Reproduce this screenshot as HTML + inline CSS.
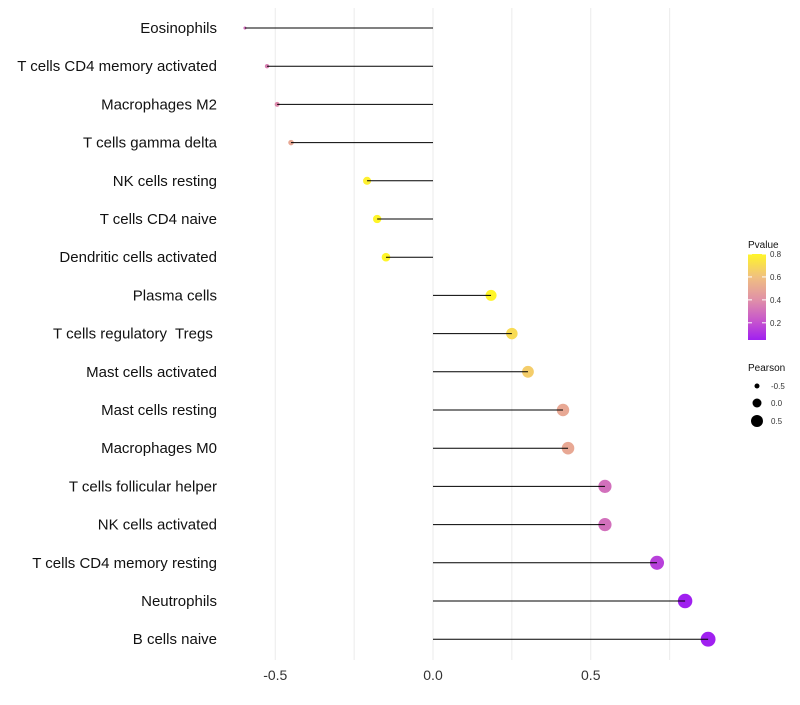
<!DOCTYPE html>
<html><head><meta charset="utf-8"><style>
body{margin:0;background:#fff;font-family:"Liberation Sans",sans-serif;}
svg text{font-family:"Liberation Sans",sans-serif;white-space:pre;}
</style></head><body>
<svg id="chart" width="800" height="700"></svg>
<script>
const categories=["Eosinophils","T cells CD4 memory activated","Macrophages M2","T cells gamma delta","NK cells resting","T cells CD4 naive","Dendritic cells activated","Plasma cells","T cells regulatory  Tregs ","Mast cells activated","Mast cells resting","Macrophages M0","T cells follicular helper","NK cells activated","T cells CD4 memory resting","Neutrophils","B cells naive"];
const pearson=[-0.596,-0.526,-0.494,-0.45,-0.209,-0.177,-0.149,0.184,0.25,0.301,0.412,0.428,0.545,0.545,0.71,0.799,0.872];
const pvalue=[0.3,0.35,0.38,0.5,0.78,0.8,0.8,0.8,0.7,0.65,0.5,0.5,0.3,0.3,0.15,0.05,0.02];
const xTicks=[-0.5,0,0.5];
const xTickLabels=["-0.5","0.0","0.5"];
const gridVals=[-0.5,-0.25,0,0.25,0.5,0.75];
const NS="http://www.w3.org/2000/svg";
const svg=document.getElementById('chart');
function mk(t,a,p){const e=document.createElementNS(NS,t);for(const k in a)e.setAttribute(k,a[k]);(p||svg).appendChild(e);return e;}
const x=v=>433+v*315.5;
const y=i=>28+i*38.2;
const stops=[[0.05,[160,32,240]],[0.2,[196,80,208]],[0.4,[224,144,168]],[0.6,[240,192,128]],[0.8,[255,245,40]]];
function col(p){if(p<=stops[0][0])return `rgb(${stops[0][1]})`;for(let i=1;i<stops.length;i++){if(p<=stops[i][0]){const a=stops[i-1],b=stops[i],t=(p-a[0])/(b[0]-a[0]);return 'rgb('+a[1].map((c,j)=>Math.round(c+(b[1][j]-c)*t)).join(',')+')';}}return `rgb(${stops[stops.length-1][1]})`;}
const rad=v=>Math.sqrt(2.25+36*Math.max(0,v+0.6));
gridVals.forEach(g=>{const l=mk('line',{x1:x(g),x2:x(g),y1:8,y2:660,stroke:'#ebebeb','stroke-width':1});

});
xTicks.forEach((t,i)=>{const e=mk('text',{x:x(t),y:680,'text-anchor':'middle','font-size':14,fill:'#333'});e.textContent=xTickLabels[i];

});
categories.forEach((c,i)=>{
const t=mk('text',{x:217,y:y(i)+5,'text-anchor':'end','font-size':15,fill:'#111'});t.textContent=c;


const d=mk('circle',{cx:x(pearson[i]),cy:y(i),r:rad(pearson[i]),fill:col(pvalue[i])});


const l=mk('line',{x1:x(0),x2:x(pearson[i]),y1:y(i),y2:y(i),stroke:'#000','stroke-width':1});


});
const lt=mk('text',{x:748,y:248,'font-size':10,fill:'#111'});lt.textContent='Pvalue';


const defs=mk('defs',{});const lg=mk('linearGradient',{id:'g',x1:0,y1:1,x2:0,y2:0},defs);
stops.forEach(s=>mk('stop',{offset:(s[0]-0.05)/0.75,'stop-color':`rgb(${s[1]})`},lg));
const bar=mk('rect',{x:748,y:254,width:18,height:86,fill:'url(#g)'});


[0.8,0.6,0.4,0.2].forEach(v=>{const yy=254+(0.8-v)/0.75*86;
mk('line',{x1:748,x2:752,y1:yy,y2:yy,stroke:'#fff'});mk('line',{x1:762,x2:766,y1:yy,y2:yy,stroke:'#fff'});
const t=mk('text',{x:770,y:yy+3,'font-size':8,fill:'#333'});t.textContent=v.toFixed(1);

});
const pt=mk('text',{x:748,y:371,'font-size':10,fill:'#111'});pt.textContent='Pearson';


[[-0.5,386,2.5],[0,403,4.5],[0.5,421,6]].forEach(a=>{mk('circle',{cx:757,cy:a[1],r:a[2],fill:'#000'});
const t=mk('text',{x:771,y:a[1]+3,'font-size':8,fill:'#333'});t.textContent=a[0]==0?'0.0':String(a[0]);

});
</script>
</body></html>
